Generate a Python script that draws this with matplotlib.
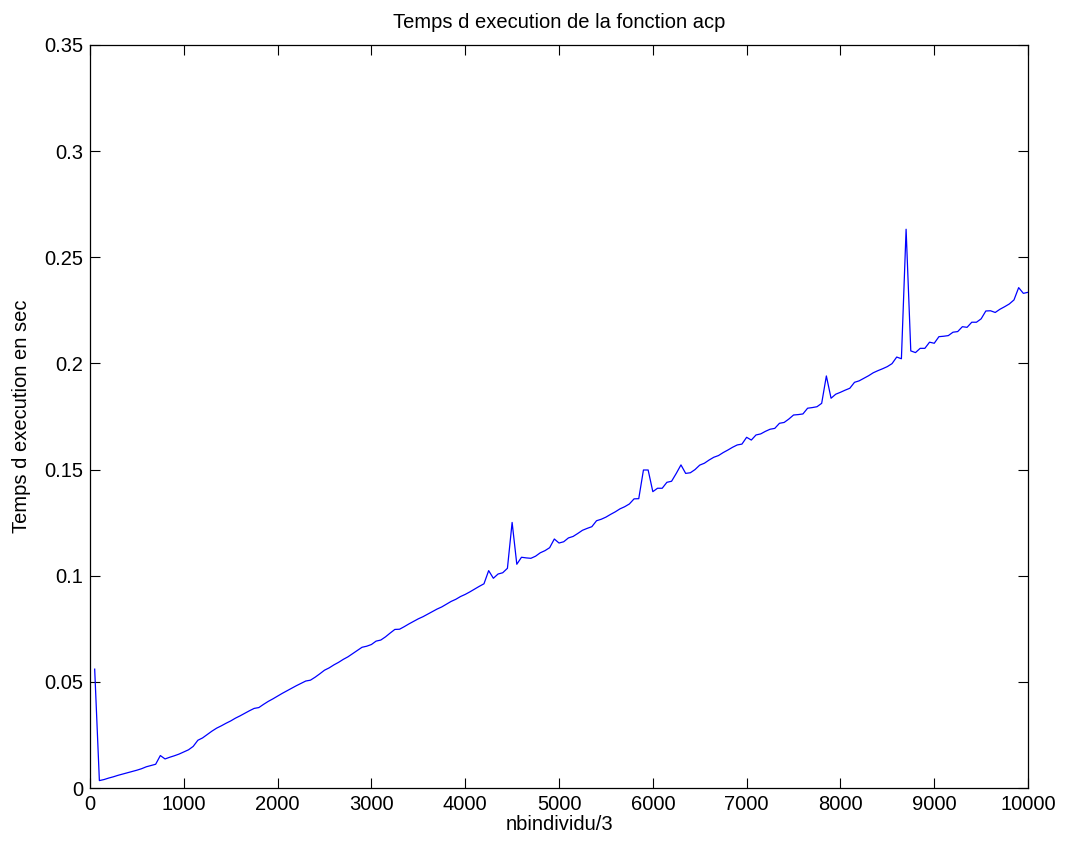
import numpy as np
import matplotlib.pyplot as plt

plt.rcParams["font.family"] = ["Liberation Sans", "DejaVu Sans"]

# x = 50, 100, ..., 10000 (nbindividu/3)
nb_individus = np.arange(50, 10001, 50)

# execution time (s), one row per 500 units of x
temps = [
    0.0560, 0.0035, 0.0040, 0.0047, 0.0053, 0.0060, 0.0066, 0.0072, 0.0078, 0.0084,
    0.0091, 0.0100, 0.0106, 0.0112, 0.0153, 0.0137, 0.0145, 0.0152, 0.0160, 0.0170,
    0.0180, 0.0196, 0.0225, 0.0236, 0.0252, 0.0268, 0.0282, 0.0293, 0.0305, 0.0316,
    0.0329, 0.0340, 0.0352, 0.0364, 0.0375, 0.0379, 0.0394, 0.0408, 0.0420, 0.0433,
    0.0446, 0.0458, 0.0470, 0.0482, 0.0493, 0.0504, 0.0508, 0.0522, 0.0538, 0.0555,
    0.0566, 0.0580, 0.0592, 0.0606, 0.0618, 0.0633, 0.0648, 0.0663, 0.0668, 0.0676,
    0.0692, 0.0697, 0.0712, 0.0730, 0.0747, 0.0748, 0.0760, 0.0773, 0.0785, 0.0797,
    0.0807, 0.0819, 0.0831, 0.0843, 0.0853, 0.0866, 0.0879, 0.0889, 0.0902, 0.0912,
    0.0924, 0.0937, 0.0950, 0.0962, 0.1024, 0.0988, 0.1008, 0.1014, 0.1035, 0.1251,
    0.1054, 0.1087, 0.1084, 0.1082, 0.1092, 0.1108, 0.1118, 0.1132, 0.1173, 0.1154,
    0.1160, 0.1178, 0.1185, 0.1199, 0.1214, 0.1223, 0.1231, 0.1259, 0.1266, 0.1276,
    0.1289, 0.1301, 0.1315, 0.1325, 0.1338, 0.1362, 0.1363, 0.1498, 0.1498, 0.1396,
    0.1412, 0.1412, 0.1440, 0.1445, 0.1482, 0.1522, 0.1482, 0.1485, 0.1500, 0.1521,
    0.1530, 0.1545, 0.1558, 0.1566, 0.1580, 0.1592, 0.1605, 0.1616, 0.1620, 0.1652,
    0.1639, 0.1663, 0.1668, 0.1680, 0.1690, 0.1694, 0.1718, 0.1722, 0.1738, 0.1757,
    0.1759, 0.1762, 0.1789, 0.1792, 0.1796, 0.1812, 0.1941, 0.1836, 0.1855, 0.1864,
    0.1874, 0.1883, 0.1911, 0.1918, 0.1930, 0.1942, 0.1956, 0.1966, 0.1975, 0.1985,
    0.1999, 0.2030, 0.2022, 0.2632, 0.2059, 0.2051, 0.2071, 0.2071, 0.2100, 0.2095,
    0.2126, 0.2128, 0.2131, 0.2147, 0.2150, 0.2173, 0.2170, 0.2194, 0.2194, 0.2210,
    0.2247, 0.2248, 0.2240, 0.2255, 0.2267, 0.2280, 0.2299, 0.2357, 0.2330, 0.2335,
]

x_ticks = list(range(0, 10001, 1000))
y_ticks = [0, 0.05, 0.1, 0.15, 0.2, 0.25, 0.3, 0.35]
y_tick_labels = ["0", "0.05", "0.1", "0.15", "0.2", "0.25", "0.3", "0.35"]

fig = plt.figure(figsize=(10.65, 8.42), dpi=100)
ax = fig.add_axes([0.0845, 0.0641, 0.8808, 0.8825])
ax.plot(nb_individus, temps, color="#0000ff", linewidth=0.9)

ax.set_xlim(0, 10000)
ax.set_ylim(0, 0.35)
ax.set_xticks(x_ticks)
ax.set_xticklabels([str(t) for t in x_ticks])
ax.set_yticks(y_ticks)
ax.set_yticklabels(y_tick_labels)
ax.tick_params(direction="in", length=7, width=0.8, top=True, right=True,
               labelsize=14.5, pad=5, colors="black")
for side in ax.spines.values():
    side.set_linewidth(0.9)

ax.set_title("Temps d execution de la fonction acp", fontsize=14.5, pad=12)
ax.set_xlabel("nbindividu/3", fontsize=14.5, labelpad=1)
ax.set_ylabel("Temps d execution en sec", fontsize=14.5, labelpad=9)

fig.savefig("out.png", dpi=100)
